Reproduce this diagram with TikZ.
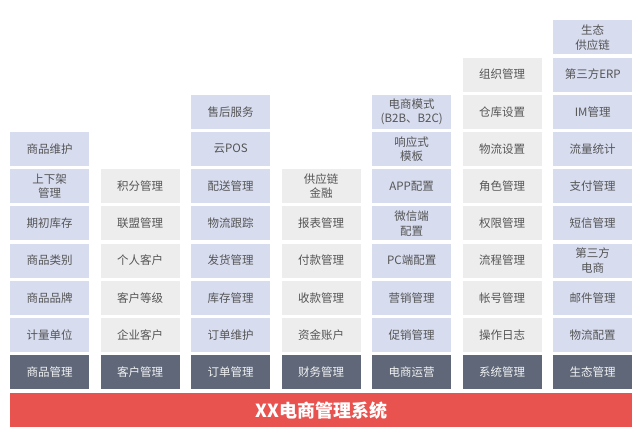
\documentclass[tikz,border=0pt]{standalone}
\usepackage{fontspec}
\setmainfont{Noto Sans CJK SC}
\definecolor{bluebox}{HTML}{D7DCEF}
\definecolor{graybox}{HTML}{EDEDED}
\definecolor{darkbox}{HTML}{5F6778}
\definecolor{redbar}{HTML}{E8524F}
\definecolor{txt}{HTML}{555555}
\newcommand\mycell[4]{\node[#3] (c#1r#2) at ({10+90.5*(#1-1)},{355-37.2*#2}) {#4};}
\begin{document}
\begin{tikzpicture}[x=1pt,y=-1pt,
  box/.style={minimum width=79pt,minimum height=34pt,inner sep=0pt,align=center,
    font=\fontsize{11.5}{14.5}\selectfont,anchor=north west},
  bluecell/.style={box,fill=bluebox,text=txt},
  graycell/.style={box,fill=graybox,text=txt},
  darkcell/.style={box,fill=darkbox,text=white!92!darkbox}]
\fill[white] (0,0) rectangle (640,431);
\useasboundingbox (0,0) rectangle (640,431);
% column 1
\mycell{1}{0}{darkcell}{商品管理}
\mycell{1}{1}{bluecell}{计量单位}
\mycell{1}{2}{bluecell}{商品品牌}
\mycell{1}{3}{bluecell}{商品类别}
\mycell{1}{4}{bluecell}{期初库存}
\mycell{1}{5}{bluecell}{上下架\\管理}
\mycell{1}{6}{bluecell}{商品维护}
% column 2
\mycell{2}{0}{darkcell}{客户管理}
\mycell{2}{1}{graycell}{企业客户}
\mycell{2}{2}{graycell}{客户等级}
\mycell{2}{3}{graycell}{个人客户}
\mycell{2}{4}{graycell}{联盟管理}
\mycell{2}{5}{graycell}{积分管理}
% column 3
\mycell{3}{0}{darkcell}{订单管理}
\mycell{3}{1}{bluecell}{订单维护}
\mycell{3}{2}{bluecell}{库存管理}
\mycell{3}{3}{bluecell}{发货管理}
\mycell{3}{4}{bluecell}{物流跟踪}
\mycell{3}{5}{bluecell}{配送管理}
\mycell{3}{6}{bluecell}{云POS}
\mycell{3}{7}{bluecell}{售后服务}
% column 4
\mycell{4}{0}{darkcell}{财务管理}
\mycell{4}{1}{graycell}{资金账户}
\mycell{4}{2}{graycell}{收款管理}
\mycell{4}{3}{graycell}{付款管理}
\mycell{4}{4}{graycell}{报表管理}
\mycell{4}{5}{graycell}{供应链\\金融}
% column 5
\mycell{5}{0}{darkcell}{电商运营}
\mycell{5}{1}{bluecell}{促销管理}
\mycell{5}{2}{bluecell}{营销管理}
\mycell{5}{3}{bluecell}{PC端配置}
\mycell{5}{4}{bluecell}{微信端\\配置}
\mycell{5}{5}{bluecell}{APP配置}
\mycell{5}{6}{bluecell}{响应式\\模板}
\mycell{5}{7}{bluecell}{电商模式\\(B2B、B2C)}
% column 6
\mycell{6}{0}{darkcell}{系统管理}
\mycell{6}{1}{graycell}{操作日志}
\mycell{6}{2}{graycell}{帐号管理}
\mycell{6}{3}{graycell}{流程管理}
\mycell{6}{4}{graycell}{权限管理}
\mycell{6}{5}{graycell}{角色管理}
\mycell{6}{6}{graycell}{物流设置}
\mycell{6}{7}{graycell}{仓库设置}
\mycell{6}{8}{graycell}{组织管理}
% column 7
\mycell{7}{0}{darkcell}{生态管理}
\mycell{7}{1}{bluecell}{物流配置}
\mycell{7}{2}{bluecell}{邮件管理}
\mycell{7}{3}{bluecell}{第三方\\电商}
\mycell{7}{4}{bluecell}{短信管理}
\mycell{7}{5}{bluecell}{支付管理}
\mycell{7}{6}{bluecell}{流量统计}
\mycell{7}{7}{bluecell}{IM管理}
\mycell{7}{8}{bluecell}{第三方ERP}
\mycell{7}{9}{bluecell}{生态\\供应链}
% base bar
\node[fill=redbar,text=white,minimum width=622pt,minimum height=34pt,inner sep=0pt,
  anchor=north west,font=\fontsize{18}{21}\bfseries\selectfont] (base) at (10,393) {XX电商管理系统};
\end{tikzpicture}
\end{document}
